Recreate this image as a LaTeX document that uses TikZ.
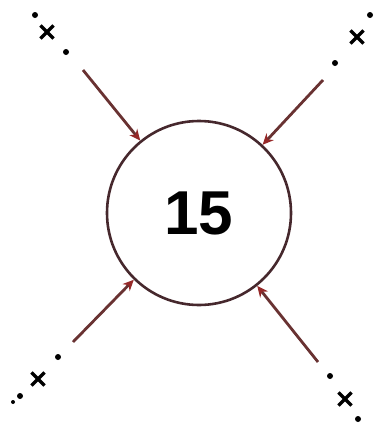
\documentclass[tikz,border=0pt]{standalone}
\usepackage{fontspec}
\setmainfont{Liberation Sans}
\usepackage{xcolor}
\definecolor{ringdark}{RGB}{70, 40, 45}
\definecolor{arrowred}{RGB}{105, 50, 50}
\definecolor{tipred}{RGB}{150, 40, 40}
\usepackage{tikz}
\usetikzlibrary{arrows.meta, shapes.misc}

\begin{document}
\begin{tikzpicture}[x=1pt, y=-1pt,
    every node/.style={inner sep=0pt},
    ring/.style={draw=ringdark, circle, line width=2.6pt, minimum size=184pt},
    feed/.style={draw=arrowred, line width=2.8pt, -{Stealth[length=11pt, width=10pt, color=tipred]}},
    xmark/.style={draw=black, cross out, line width=3.2pt, minimum size=10pt},
    pt/.style={fill=black, circle, minimum size=6pt}]
    \useasboundingbox (0,0) rectangle (379,434);

    \node [ring] (val) at (199,213) {\fontsize{62}{62}\selectfont\bfseries 15};

    % upper left
    \node [pt] (ul1) at (35,15) {};
    \node [xmark] (ulx) at (47,32) {};
    \node [pt] (ul2) at (66,52) {};
    \coordinate (ul) at (83,70);

    % upper right
    \node [pt] (ur1) at (370,15) {};
    \node [xmark] (urx) at (357,37) {};
    \node [pt] (ur2) at (335,63) {};
    \coordinate (ur) at (323,80);

    % lower left
    \node [pt, minimum size=4pt] (ll0) at (13,402) {};
    \node [pt] (ll1) at (20,396) {};
    \node [xmark] (llx) at (38,379) {};
    \node [pt] (ll2) at (58,357) {};
    \coordinate (ll) at (73,342);

    % lower right
    \node [pt] (lr1) at (330,376) {};
    \node [xmark] (lrx) at (345,399) {};
    \node [pt] (lr2) at (358,419) {};
    \coordinate (lr) at (318,362);

    \draw [feed] (ul) -- (val);
    \draw [feed] (ur) -- (val);
    \draw [feed] (ll) -- (val);
    \draw [feed] (lr) -- (val);
\end{tikzpicture}
\end{document}
